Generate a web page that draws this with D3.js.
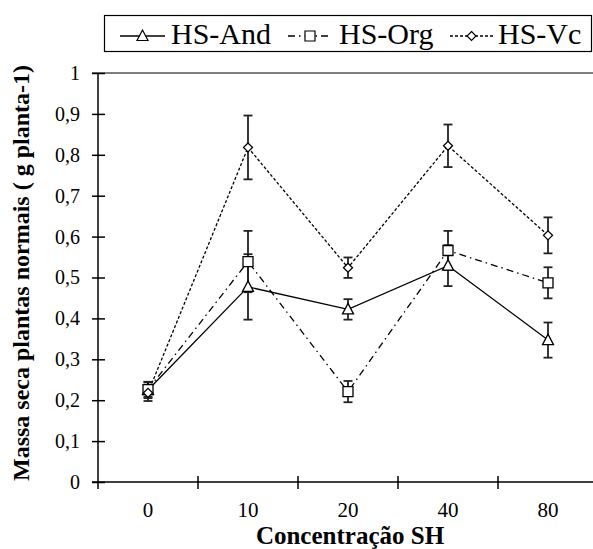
<!DOCTYPE html>
<html>
<head>
<meta charset="utf-8">
<script src="https://cdn.jsdelivr.net/npm/d3@7"></script>
<style>
  body { margin: 0; background: #fff; }
  svg text { font-family: "Liberation Serif", "Times New Roman", Tinos, "DejaVu Serif", serif; }
</style>
</head>
<body>
<svg id="chart" width="593" height="549"></svg>
<script>
// Concentration levels (x categories)
const categories = ["0", "10", "20", "40", "80"];

// Mean dry mass per series
const andValues = [0.225, 0.477, 0.422, 0.529, 0.347];
const orgValues = [0.226, 0.539, 0.221, 0.566, 0.487];
const vcValues  = [0.218, 0.818, 0.524, 0.822, 0.603];

// Error (± half-range) per series
const andErrors = [0.02, 0.08, 0.025, 0.05, 0.043];
const orgErrors = [0.018, 0.075, 0.026, 0.048, 0.038];
const vcErrors  = [0.02, 0.078, 0.025, 0.052, 0.044];

const yTicks = [0, 0.1, 0.2, 0.3, 0.4, 0.5, 0.6, 0.7, 0.8, 0.9, 1];

const seriesNames = ["HS-And", "HS-Org", "HS-Vc"];

const series = [
  { name: seriesNames[0], values: andValues, errors: andErrors, dash: null, marker: "triangle" },
  { name: seriesNames[1], values: orgValues, errors: orgErrors, dash: "7,4,1.5,4", marker: "square" },
  { name: seriesNames[2], values: vcValues,  errors: vcErrors,  dash: "3,2", marker: "diamond" }
];

const FONT = "'Liberation Serif', 'Times New Roman', Tinos, 'DejaVu Serif', serif";

const svg = d3.select("#chart");

const x = d3.scaleBand().domain(categories).range([98, 598]).padding(0);
const y = d3.scaleLinear().domain([0, 1]).range([482, 73]);
const cx = c => x(c) + x.bandwidth() / 2;

// Top frame line of the plot area
svg.append("line")
  .attr("x1", 92).attr("x2", 593)
  .attr("y1", y(1)).attr("y2", y(1))
  .attr("stroke", "#555").attr("stroke-width", 1.6);

// Y axis
const yAxis = svg.append("g")
  .attr("transform", "translate(98,0)")
  .call(d3.axisLeft(y).tickValues(yTicks).tickSize(6).tickPadding(12)
    .tickFormat(d => d3.format(".1~f")(d).replace(".", ",")));
yAxis.attr("font-family", FONT);
yAxis.select(".domain").attr("stroke", "#000").attr("stroke-width", 1.5).attr("d", `M0,${y(1)}V${y(0)}`);
yAxis.selectAll(".tick line").attr("x1", -6).attr("x2", 7).attr("stroke", "#000").attr("stroke-width", 1.5);
yAxis.selectAll(".tick text").attr("font-size", 20).attr("fill", "#000")
  .style("font-family", FONT);

// X axis: ticks sit on the band boundaries, labels at band centres
const xg = svg.append("g");
xg.append("line")
  .attr("x1", 92).attr("x2", 593)
  .attr("y1", y(0)).attr("y2", y(0))
  .attr("stroke", "#000").attr("stroke-width", 1.5);
xg.selectAll("line.bt")
  .data(categories.slice(1))
  .join("line")
  .attr("class", "bt")
  .attr("x1", d => x(d)).attr("x2", d => x(d))
  .attr("y1", y(0) - 6).attr("y2", y(0) + 7)
  .attr("stroke", "#000").attr("stroke-width", 1.5);
xg.append("line")
  .attr("x1", 98).attr("x2", 98)
  .attr("y1", y(0)).attr("y2", y(0) + 7)
  .attr("stroke", "#000").attr("stroke-width", 1.5);
xg.selectAll("text")
  .data(categories)
  .join("text")
  .attr("x", d => cx(d))
  .attr("y", 517)
  .attr("text-anchor", "middle")
  .attr("font-size", 21)
  .style("font-family", FONT)
  .text(d => d);

// Axis titles
svg.append("text")
  .attr("x", 350).attr("y", 543.5)
  .attr("text-anchor", "middle")
  .attr("font-size", 25).attr("font-weight", "bold")
  .style("font-family", FONT)
  .text("Concentração SH");

svg.append("text")
  .attr("transform", "translate(29,273) rotate(-90)")
  .attr("text-anchor", "middle")
  .attr("font-size", 24).attr("font-weight", "bold")
  .style("font-family", FONT)
  .text("Massa seca plantas normais ( g planta-1)");

// Marker shapes
function markerPath(type) {
  if (type === "triangle") return "M0,-6L5.5,4.5L-5.5,4.5Z";
  if (type === "square") return "M-5,-5H5V5H-5Z";
  return "M0,-4.5L4.5,0L0,4.5L-4.5,0Z";
}

const line = d3.line().x((d, i) => cx(categories[i])).y(d => y(d));

// Series lines
series.forEach(s => {
  svg.append("path")
    .attr("d", line(s.values))
    .attr("fill", "none")
    .attr("stroke", "#000")
    .attr("stroke-width", 1.3)
    .attr("stroke-dasharray", s.dash);
});

// Error bars
series.forEach(s => {
  const g = svg.append("g").attr("stroke", "#222").attr("stroke-width", 1.8);
  s.values.forEach((v, i) => {
    const px = cx(categories[i]);
    const hi = y(v + s.errors[i]);
    const lo = y(v - s.errors[i]);
    g.append("line").attr("x1", px).attr("x2", px).attr("y1", hi).attr("y2", lo);
    g.append("line").attr("x1", px - 4.5).attr("x2", px + 4.5).attr("y1", hi).attr("y2", hi);
    g.append("line").attr("x1", px - 4.5).attr("x2", px + 4.5).attr("y1", lo).attr("y2", lo);
  });
});

// Markers
series.forEach(s => {
  svg.append("g").selectAll("path")
    .data(s.values)
    .join("path")
    .attr("transform", (d, i) => `translate(${cx(categories[i])},${y(d)})`)
    .attr("d", markerPath(s.marker))
    .attr("fill", "#fff")
    .attr("stroke", "#000")
    .attr("stroke-width", 1.3);
});

// Legend
const lg = svg.append("g");
lg.append("rect")
  .attr("x", 104.5).attr("y", 15.5)
  .attr("width", 487).attr("height", 36)
  .attr("fill", "#fff").attr("stroke", "#000").attr("stroke-width", 1.2);

const legendItems = [
  { s: series[0], x1: 120, x2: 165, tx: 171 },
  { s: series[1], x1: 288, x2: 332, tx: 339 },
  { s: series[2], x1: 450, x2: 493, tx: 498 }
];
legendItems.forEach(it => {
  const my = 36;
  lg.append("line")
    .attr("x1", it.x1).attr("x2", it.x2)
    .attr("y1", my).attr("y2", my)
    .attr("stroke", "#000").attr("stroke-width", 1.3)
    .attr("stroke-dasharray", it.s.dash);
  lg.append("path")
    .attr("transform", `translate(${(it.x1 + it.x2) / 2},${my})`)
    .attr("d", markerPath(it.s.marker))
    .attr("fill", "#fff").attr("stroke", "#000").attr("stroke-width", 1.2);
  lg.append("text")
    .attr("x", it.tx).attr("y", 44)
    .attr("font-size", 30)
    .style("font-family", FONT)
    .text(it.s.name);
});
</script>
</body>
</html>
